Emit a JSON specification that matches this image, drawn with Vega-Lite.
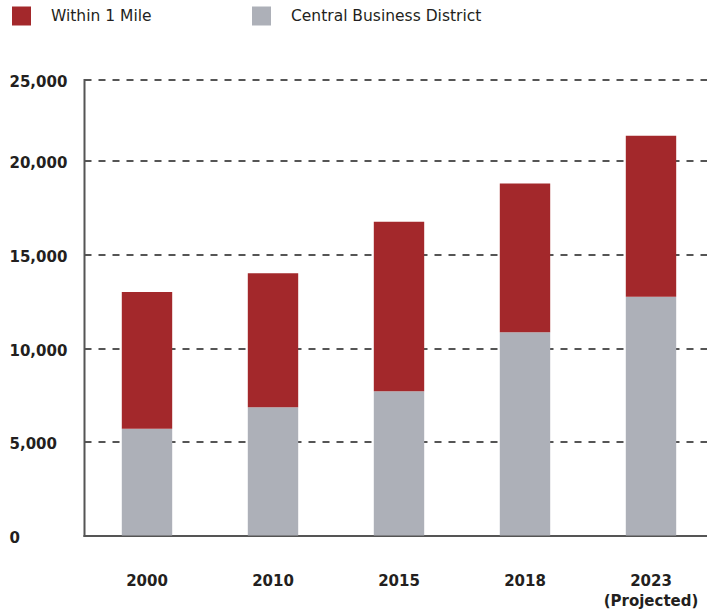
{
  "$schema": "https://vega.github.io/schema/vega-lite/v6.json",
  "autosize": "none",
  "width": 618,
  "height": 456,
  "padding": {"left": 84, "top": 79.5, "right": 5, "bottom": 76.5},
  "background": "white",
  "data": {
    "values": [
      {"year": "2000", "series": "Central Business District", "value": 5700, "ord": 1},
      {"year": "2000", "series": "Within 1 Mile", "value": 7300, "ord": 2},
      {"year": "2010", "series": "Central Business District", "value": 6850, "ord": 1},
      {"year": "2010", "series": "Within 1 Mile", "value": 7150, "ord": 2},
      {"year": "2015", "series": "Central Business District", "value": 7700, "ord": 1},
      {"year": "2015", "series": "Within 1 Mile", "value": 9050, "ord": 2},
      {"year": "2018", "series": "Central Business District", "value": 10850, "ord": 1},
      {"year": "2018", "series": "Within 1 Mile", "value": 7950, "ord": 2},
      {"year": "2023", "series": "Central Business District", "value": 12750, "ord": 1},
      {"year": "2023", "series": "Within 1 Mile", "value": 8600, "ord": 2}
    ]
  },
  "mark": {"type": "bar"},
  "encoding": {
    "x": {
      "field": "year",
      "type": "ordinal",
      "sort": ["2000", "2010", "2015", "2018", "2023"],
      "scale": {"range": [0, 630], "paddingInner": 0.6, "paddingOuter": 0.3},
      "axis": {
        "title": null,
        "domain": true,
        "domainColor": "#555555",
        "domainWidth": 2,
        "ticks": false,
        "grid": false,
        "labelAngle": 0,
        "labelPadding": 38,
        "labelBaseline": "top",
        "labelFont": "DejaVu Sans",
        "labelFontSize": 15,
        "labelFontWeight": "bold",
        "labelColor": "#231f20",
        "labelLineHeight": 20,
        "labelExpr": "datum.value == '2023' ? ['2023', '(Projected)'] : datum.value"
      }
    },
    "y": {
      "field": "value",
      "type": "quantitative",
      "stack": "zero",
      "scale": {"domain": [0, 22000, 25000], "range": [456, 44, 0], "nice": false},
      "axis": {
        "title": null,
        "values": [0, 5000, 10000, 15000, 20000, 25000],
        "labelExpr": "format(datum.value, ',')",
        "domain": true,
        "domainColor": "#555555",
        "domainWidth": 2,
        "ticks": false,
        "tickSize": 0,
        "labelAlign": "left",
        "labelPadding": 75,
        "labelBaseline": "middle",
        "labelOffset": 2,
        "labelFont": "DejaVu Sans",
        "labelFontSize": 15,
        "labelFontWeight": "bold",
        "labelColor": "#231f20",
        "grid": true,
        "gridColor": "#555555",
        "gridWidth": 2,
        "gridDash": [7, 7]
      }
    },
    "color": {
      "field": "series",
      "type": "nominal",
      "scale": {
        "domain": ["Within 1 Mile", "Central Business District"],
        "range": ["#a3282b", "#adb0b8"]
      },
      "legend": {
        "title": null,
        "orient": "none",
        "direction": "horizontal",
        "legendX": -72,
        "legendY": -73,
        "padding": 0,
        "symbolType": "square",
        "symbolSize": 361,
        "symbolStrokeWidth": 0,
        "symbolOpacity": 1,
        "labelFont": "DejaVu Sans",
        "labelFontSize": 15.5,
        "labelColor": "#231f20",
        "labelLimit": 400,
        "labelOffset": 20,
        "columnPadding": 100
      }
    },
    "order": {"field": "ord", "type": "quantitative"}
  },
  "config": {
    "view": {"stroke": null},
    "axis": {"domainCap": "square"}
  }
}
